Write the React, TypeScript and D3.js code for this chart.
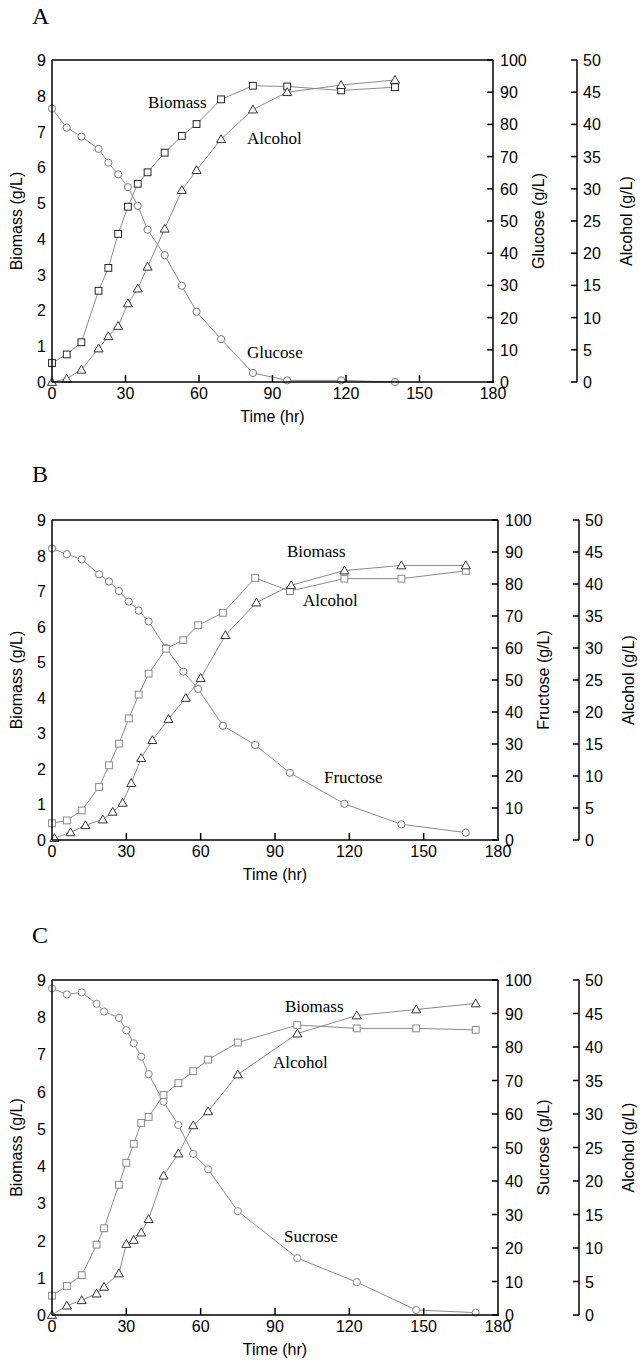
import React from "react";
import * as d3 from "d3";

// ---------- DATA ----------
const timeTicks = [0, 30, 60, 90, 120, 150, 180];
const biomassTicks = [0, 1, 2, 3, 4, 5, 6, 7, 8, 9];
const sugarTicks = [0, 10, 20, 30, 40, 50, 60, 70, 80, 90, 100];
const alcoholTicks = [0, 5, 10, 15, 20, 25, 30, 35, 40, 45, 50];

// Panel A (glucose)
const timeA = [0, 6, 12, 19, 23, 27, 31, 35, 39, 46, 53, 59, 69, 82, 96, 118, 140];
const biomassA = [0.53, 0.77, 1.11, 2.55, 3.19, 4.14, 4.9, 5.54, 5.86, 6.41, 6.88, 7.21, 7.9, 8.28, 8.26, 8.15, 8.24];
const alcoholA = [0, 0.5, 1.9, 5.2, 7.1, 8.7, 12.2, 14.5, 17.9, 23.8, 29.8, 32.9, 37.7, 42.3, 45.0, 46.1, 46.9];
const glucoseA = [84.9, 79.0, 76.2, 72.4, 68.1, 64.5, 60.5, 54.7, 47.3, 39.4, 29.9, 21.8, 13.3, 2.8, 0.5, 0.5, 0];

// Panel B (fructose)
const timeB = [0, 6, 12, 19, 23, 27, 31, 35, 39, 46, 53, 59, 69, 82, 96, 118, 141, 167];
const biomassB = [0.47, 0.55, 0.83, 1.49, 2.1, 2.71, 3.42, 4.09, 4.68, 5.38, 5.62, 6.04, 6.39, 7.37, 7.0, 7.35, 7.35, 7.57];
const fructoseB = [91.1, 89.3, 87.7, 83.0, 80.8, 77.8, 74.5, 71.7, 68.3, 60.0, 52.6, 47.2, 35.7, 29.7, 21.0, 11.3, 4.9, 2.3];
const timeAlcB = [1, 7.5, 13.5, 20.5, 24.5, 28.5, 32, 36, 40.5, 47, 54, 60, 70, 82.5, 96.5, 118, 141, 167];
const alcoholB = [0.3, 1.2, 2.3, 3.2, 4.4, 5.8, 8.9, 12.8, 15.6, 18.9, 22.2, 25.3, 32.0, 37.1, 39.8, 42.1, 42.9, 42.9];

// Panel C (sucrose)
const timeC = [0, 6, 12, 18, 21, 27, 30, 33, 36, 39, 45, 51, 57, 63, 75, 99, 123, 147, 171];
const biomassC = [0.52, 0.78, 1.07, 1.89, 2.33, 3.5, 4.09, 4.6, 5.16, 5.32, 5.91, 6.23, 6.55, 6.86, 7.32, 7.79, 7.7, 7.7, 7.66];
const alcoholC = [0, 1.4, 2.2, 3.2, 4.2, 6.2, 10.6, 11.2, 12.3, 14.3, 20.8, 24.1, 28.3, 30.4, 35.9, 42.0, 44.7, 45.6, 46.5];
const sucroseC = [97.5, 95.7, 96.3, 92.9, 90.6, 88.7, 85.0, 81.1, 77.1, 71.9, 63.7, 56.7, 48.1, 43.5, 31.0, 17.0, 9.8, 1.5, 0.7];

// ---------- LAYOUT ----------
const SANS = "'Liberation Sans', Arial, sans-serif";
const SERIF = "'Liberation Serif', 'Times New Roman', serif";

type Series = { t: number[]; v: number[] };
type PanelCfg = {
  letter: string;
  letterY: number;
  x0: number; x1: number; yTop: number; yBot: number; altX: number;
  sugarName: string;
  biomass: Series; alcohol: Series; sugar: Series;
  sqStroke: string; triStroke: string; circStroke: string;
  labels: { text: string; x: number; y: number }[];
};

const panels: PanelCfg[] = [
  {
    letter: "A", letterY: 24,
    x0: 52, x1: 493, yTop: 60, yBot: 382, altX: 577,
    sugarName: "Glucose",
    biomass: { t: timeA, v: biomassA },
    alcohol: { t: timeA, v: alcoholA },
    sugar: { t: timeA, v: glucoseA },
    sqStroke: "#222", triStroke: "#333", circStroke: "#777",
    labels: [
      { text: "Biomass", x: 148, y: 108 },
      { text: "Alcohol", x: 247, y: 144 },
      { text: "Glucose", x: 247, y: 358 },
    ],
  },
  {
    letter: "B", letterY: 482,
    x0: 52, x1: 498, yTop: 520, yBot: 840, altX: 579,
    sugarName: "Fructose",
    biomass: { t: timeB, v: biomassB },
    alcohol: { t: timeAlcB, v: alcoholB },
    sugar: { t: timeB, v: fructoseB },
    sqStroke: "#888", triStroke: "#333", circStroke: "#777",
    labels: [
      { text: "Biomass", x: 287, y: 557 },
      { text: "Alcohol", x: 303, y: 606 },
      { text: "Fructose", x: 324, y: 783 },
    ],
  },
  {
    letter: "C", letterY: 943,
    x0: 52, x1: 498, yTop: 980, yBot: 1315, altX: 579,
    sugarName: "Sucrose",
    biomass: { t: timeC, v: biomassC },
    alcohol: { t: timeC, v: alcoholC },
    sugar: { t: timeC, v: sucroseC },
    sqStroke: "#888", triStroke: "#333", circStroke: "#888",
    labels: [
      { text: "Biomass", x: 285, y: 1012 },
      { text: "Alcohol", x: 273, y: 1068 },
      { text: "Sucrose", x: 284, y: 1242 },
    ],
  },
];

function Panel({ p }: { p: PanelCfg }) {
  const x = d3.scaleLinear().domain([0, 180]).range([p.x0, p.x1]);
  const yB = d3.scaleLinear().domain([0, 9]).range([p.yBot, p.yTop]);
  const yS = d3.scaleLinear().domain([0, 100]).range([p.yBot, p.yTop]);
  const yA = d3.scaleLinear().domain([0, 50]).range([p.yBot, p.yTop]);

  const mk = (s: Series, y: d3.ScaleLinear<number, number>) =>
    s.t.map((t, i) => [x(t), y(s.v[i])] as [number, number]);
  const line = d3.line();

  const bPts = mk(p.biomass, yB);
  const aPts = mk(p.alcohol, yA);
  const sPts = mk(p.sugar, yS);
  const lineColor = "#8a8a8a";
  const midY = (p.yTop + p.yBot) / 2;
  const tri = (cx: number, cy: number) => {
    const h = 7.5, w = 4.5;
    return `M${cx},${cy - h * 0.6}L${cx + w},${cy + h * 0.45}L${cx - w},${cy + h * 0.45}Z`;
  };

  return (
    <g>
      <text x={32} y={p.letterY} fontFamily={SERIF} fontSize={24}>{p.letter}</text>

      {/* data lines */}
      <path d={line(sPts) || ""} fill="none" stroke={lineColor} strokeWidth={1} />
      <path d={line(bPts) || ""} fill="none" stroke={lineColor} strokeWidth={1} />
      <path d={line(aPts) || ""} fill="none" stroke={lineColor} strokeWidth={1} />

      {/* markers */}
      {sPts.map(([cx, cy], i) => (
        <circle key={"s" + i} cx={cx} cy={cy} r={3.6} fill="#fff" stroke={p.circStroke} strokeWidth={1} />
      ))}
      {bPts.map(([cx, cy], i) => (
        <rect key={"b" + i} x={cx - 3.4} y={cy - 3.4} width={6.8} height={6.8} fill="#fff" stroke={p.sqStroke} strokeWidth={1} />
      ))}
      {aPts.map(([cx, cy], i) => (
        <path key={"a" + i} d={tri(cx, cy)} fill="#fff" stroke={p.triStroke} strokeWidth={1} />
      ))}

      {/* frame */}
      <line x1={p.x0} x2={p.x1} y1={p.yTop} y2={p.yTop} stroke="#000" strokeWidth={1.5} />
      <line x1={p.x0} x2={p.x1 + 1} y1={p.yBot} y2={p.yBot} stroke="#000" strokeWidth={1.5} />
      <line x1={p.x0} x2={p.x0} y1={p.yTop} y2={p.yBot} stroke="#000" strokeWidth={1.5} />
      <line x1={p.x1} x2={p.x1} y1={p.yTop} y2={p.yBot} stroke="#000" strokeWidth={1.5} />

      {/* bottom axis */}
      {timeTicks.map((t) => (
        <g key={"xt" + t}>
          {t > 0 && t < 180 && (
            <line x1={x(t)} x2={x(t)} y1={p.yBot} y2={p.yBot - 7} stroke="#000" strokeWidth={1.5} />
          )}
          <text x={x(t)} y={p.yBot + 17} textAnchor="middle" fontFamily={SANS} fontSize={16}>{t}</text>
        </g>
      ))}
      <text x={x(90)} y={p.yBot + 40} textAnchor="middle" fontFamily={SANS} fontSize={16}>Time (hr)</text>

      {/* left axis */}
      {biomassTicks.map((v) => (
        <text key={"yl" + v} x={p.x0 - 6} y={yB(v) + 6} textAnchor="end" fontFamily={SANS} fontSize={16}>{v}</text>
      ))}
      <text transform={`translate(${p.x0 - 30},${midY}) rotate(-90)`} textAnchor="middle" fontFamily={SANS} fontSize={16}>Biomass (g/L)</text>

      {/* sugar axis */}
      {sugarTicks.map((v) => (
        <g key={"ys" + v}>
          <line x1={p.x1} x2={p.x1 - 6} y1={yS(v)} y2={yS(v)} stroke="#000" strokeWidth={1.5} />
          <text x={p.x1 + 7} y={yS(v) + 6} fontFamily={SANS} fontSize={16}>{v}</text>
        </g>
      ))}
      <text transform={`translate(${p.x1 + 51},${midY}) rotate(-90)`} textAnchor="middle" fontFamily={SANS} fontSize={16}>{p.sugarName + " (g/L)"}</text>

      {/* alcohol axis */}
      <line x1={p.altX} x2={p.altX} y1={p.yTop} y2={p.yBot} stroke="#000" strokeWidth={1.5} />
      {alcoholTicks.map((v) => (
        <g key={"ya" + v}>
          <line x1={p.altX} x2={p.altX - 6} y1={yA(v)} y2={yA(v)} stroke="#000" strokeWidth={1.5} />
          <text x={p.altX + 6} y={yA(v) + 6} fontFamily={SANS} fontSize={16}>{v}</text>
        </g>
      ))}
      <text transform={`translate(${p.altX + 55},${midY}) rotate(-90)`} textAnchor="middle" fontFamily={SANS} fontSize={16}>Alcohol (g/L)</text>

      {/* series labels */}
      {p.labels.map((l) => (
        <text key={l.text} x={l.x} y={l.y} fontFamily={SERIF} fontSize={17}>{l.text}</text>
      ))}
    </g>
  );
}

export default function App() {
  return (
    <svg
      width={644}
      height={1366}
      style={{ position: "absolute", left: 0, top: 0, background: "#fff" }}
    >
      <rect x={0} y={0} width={644} height={1366} fill="#fff" />
      {panels.map((p) => (
        <Panel key={p.letter} p={p} />
      ))}
    </svg>
  );
}
